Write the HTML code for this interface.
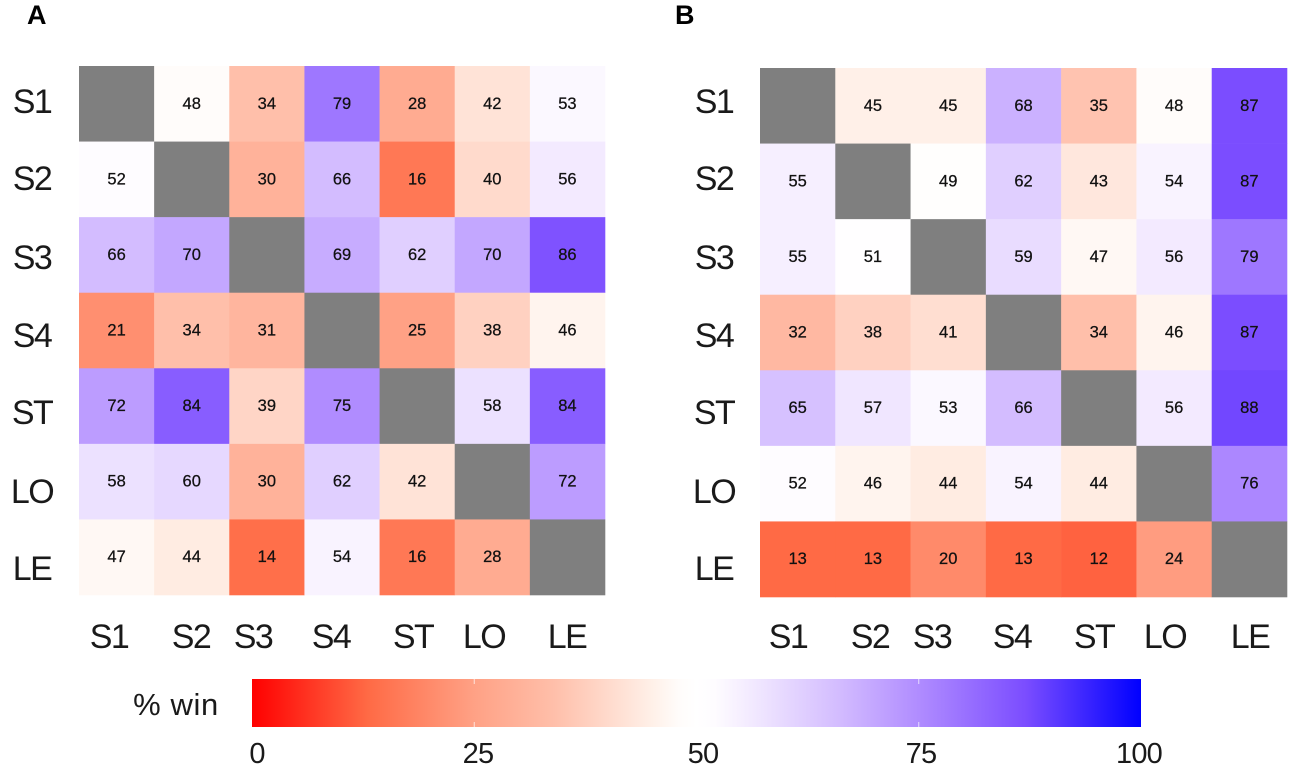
<!DOCTYPE html>
<html lang="en">
<head>
<meta charset="utf-8">
<title>Win percentage heatmaps</title>
<style>
html,body{margin:0;padding:0;background:#fff;width:1299px;height:773px;overflow:hidden}
svg{display:block}
text{font-family:"Liberation Sans",sans-serif;fill:#111}
.tick{font-size:34px;letter-spacing:-1.6px;text-anchor:middle;fill:#1a1a1a}
.val{font-size:16.5px;text-anchor:middle;fill:#111;stroke:#111;stroke-width:0.25px}
.panel{font-size:27px;font-weight:700;fill:#000}
.cb{font-size:29px;letter-spacing:-0.8px;text-anchor:middle;fill:#1a1a1a}
.cbt{font-size:31px;letter-spacing:0.6px;text-anchor:middle;fill:#1a1a1a}
</style>
</head>
<body>
<svg id="chart" width="1299" height="773" viewBox="0 0 1299 773" xmlns="http://www.w3.org/2000/svg">
  <defs>
    <linearGradient id="cbGrad" x1="0" x2="1" y1="0" y2="0"></linearGradient>
  </defs>
  <g id="cellsA"></g>
  <g id="cellsB"></g>

  <text class="panel" x="27" y="24">A</text>
  <text class="panel" x="675" y="24">B</text>

  <g>
    <text class="tick" x="32" y="113">S1</text>
    <text class="tick" x="32" y="190">S2</text>
    <text class="tick" x="32" y="269">S3</text>
    <text class="tick" x="32" y="347">S4</text>
    <text class="tick" x="32" y="424">ST</text>
    <text class="tick" x="32" y="503">LO</text>
    <text class="tick" x="32" y="580">LE</text>
  </g>
  <g>
    <text class="tick" x="109" y="648">S1</text>
    <text class="tick" x="191" y="648">S2</text>
    <text class="tick" x="253" y="648">S3</text>
    <text class="tick" x="331" y="648">S4</text>
    <text class="tick" x="413" y="648">ST</text>
    <text class="tick" x="484" y="648">LO</text>
    <text class="tick" x="567" y="648">LE</text>
  </g>
  <g>
    <text class="tick" x="714" y="113">S1</text>
    <text class="tick" x="714" y="190">S2</text>
    <text class="tick" x="714" y="269">S3</text>
    <text class="tick" x="714" y="347">S4</text>
    <text class="tick" x="714" y="424">ST</text>
    <text class="tick" x="714" y="503">LO</text>
    <text class="tick" x="714" y="580">LE</text>
  </g>
  <g>
    <text class="tick" x="788" y="648">S1</text>
    <text class="tick" x="870" y="648">S2</text>
    <text class="tick" x="932" y="648">S3</text>
    <text class="tick" x="1012" y="648">S4</text>
    <text class="tick" x="1094" y="648">ST</text>
    <text class="tick" x="1165" y="648">LO</text>
    <text class="tick" x="1250" y="648">LE</text>
  </g>

  <g>
    <text class="cbt" x="176" y="715">% win</text>
    <rect x="252" y="679" width="889" height="48" fill="url(#cbGrad)"></rect>
    <g id="cbTicks"></g>
    <text class="cb" x="257" y="763">0</text>
    <text class="cb" x="478" y="763">25</text>
    <text class="cb" x="703" y="763">50</text>
    <text class="cb" x="921" y="763">75</text>
    <text class="cb" x="1139" y="763">100</text>
  </g>
</svg>
<script>
var categories = ['S1','S2','S3','S4','ST','LO','LE'];
var valuesA = [
  [null,48,34,79,28,42,53],
  [52,null,30,66,16,40,56],
  [66,70,null,69,62,70,86],
  [21,34,31,null,25,38,46],
  [72,84,39,75,null,58,84],
  [58,60,30,62,42,null,72],
  [47,44,14,54,16,28,null]
];
var valuesB = [
  [null,45,45,68,35,48,87],
  [55,null,49,62,43,54,87],
  [55,51,null,59,47,56,79],
  [32,38,41,null,34,46,87],
  [65,57,53,66,null,56,88],
  [52,46,44,54,44,null,76],
  [13,13,20,13,12,24,null]
];
var colorbarTicks = [25,50,75];
var colormapValues = [0,13,25,34,45,48,50,52,55,66,75,87,100];
var colormapColors = ['#ff0000','#ff6a45','#ffa185','#ffbfaa','#fff0e8','#fffcfa','#ffffff','#fefcff','#f6efff','#d3bcff','#b08cff','#7b4dff','#0000ff'];

function hexToRgb(h){
  return [parseInt(h.substr(1,2),16),parseInt(h.substr(3,2),16),parseInt(h.substr(5,2),16)];
}
function colorFor(v){
  for(var i=0;i<colormapValues.length-1;i++){
    if(v<=colormapValues[i+1]){
      var t=(v-colormapValues[i])/(colormapValues[i+1]-colormapValues[i]);
      var a=hexToRgb(colormapColors[i]),b=hexToRgb(colormapColors[i+1]);
      return 'rgb('+Math.round(a[0]+(b[0]-a[0])*t)+','+Math.round(a[1]+(b[1]-a[1])*t)+','+Math.round(a[2]+(b[2]-a[2])*t)+')';
    }
  }
  return colormapColors[colormapColors.length-1];
}
var NS='http://www.w3.org/2000/svg';
function makeScale(start,end,count){
  return function(i){return start+(end-start)*i/count;};
}
function drawHeatmap(groupId,values,x0,x1,y0,y1){
  var g=document.getElementById(groupId);
  var xScale=makeScale(x0,x1,categories.length);
  var yScale=makeScale(y0,y1,categories.length);
  values.forEach(function(row,r){
    row.forEach(function(v,c){
      var x=xScale(c),y=yScale(r),w=xScale(c+1)-x,h=yScale(r+1)-y;
      var rect=document.createElementNS(NS,'rect');
      rect.setAttribute('x',x);
      rect.setAttribute('y',y);
      rect.setAttribute('width',w+0.3);
      rect.setAttribute('height',h+0.3);
      rect.setAttribute('fill',v===null?'#7f7f7f':colorFor(v));
      
      
      g.appendChild(rect);
      if(v!==null){
        var t=document.createElementNS(NS,'text');
        t.setAttribute('class','val');
        t.setAttribute('x',x+w/2);
        t.setAttribute('y',y+h/2+5);
        t.textContent=String(v);
        
        
        g.appendChild(t);
      }
    });
  });
}
drawHeatmap('cellsA',valuesA,79,605,66,595);
drawHeatmap('cellsB',valuesB,760,1287,68,597);

var grad=document.getElementById('cbGrad');
colormapValues.forEach(function(v,i){
  var s=document.createElementNS(NS,'stop');
  s.setAttribute('offset',v+'%');
  s.setAttribute('stop-color',colormapColors[i]);
  grad.appendChild(s);
});
var cbScale=function(v){return 252+889*v/100;};
var cbG=document.getElementById('cbTicks');
colorbarTicks.forEach(function(v){
  [[679,684],[722,727]].forEach(function(seg){
    var l=document.createElementNS(NS,'line');
    l.setAttribute('x1',cbScale(v));
    l.setAttribute('x2',cbScale(v));
    l.setAttribute('y1',seg[0]);
    l.setAttribute('y2',seg[1]);
    l.setAttribute('stroke','rgba(255,255,255,0.7)');
    l.setAttribute('stroke-width','1');
    
    
    cbG.appendChild(l);
  });
});
</script>
</body>
</html>
